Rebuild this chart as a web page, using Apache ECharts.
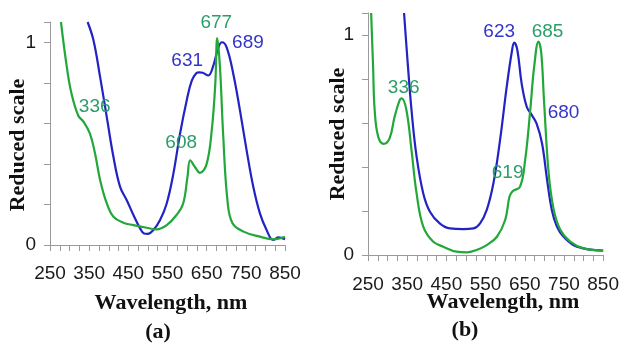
<!DOCTYPE html>
<html>
<head>
<meta charset="utf-8">
<script src="https://cdn.jsdelivr.net/npm/echarts@6/dist/echarts.min.js"></script>
<style>
  html, body { margin: 0; padding: 0; background: #fff; }
  #main { width: 622px; height: 345px; }
</style>
</head>
<body>
<div id="main"></div>
<script>
// panel (a)
const aGreenNm = [278, 293, 305, 322, 336, 352, 365, 378, 395, 412, 437, 463, 497, 522, 548, 573, 590, 601, 608, 620, 633, 650, 663, 672, 677, 684, 692, 703, 716, 744, 786, 820, 850];
const aGreenVal = [1.10, 0.877, 0.746, 0.639, 0.607, 0.549, 0.451, 0.32, 0.205, 0.139, 0.11, 0.098, 0.085, 0.077, 0.098, 0.148, 0.205, 0.336, 0.418, 0.385, 0.356, 0.40, 0.566, 0.795, 1.02, 0.877, 0.549, 0.221, 0.107, 0.066, 0.041, 0.028, 0.041];
const aBlueNm = [346, 361, 378, 395, 412, 429, 446, 463, 480, 490, 500, 514, 531, 548, 565, 582, 599, 612, 624, 631, 640, 654, 667, 680, 689, 701, 718, 735, 752, 769, 786, 803, 820, 833, 850];
const aBlueVal = [1.10, 1.01, 0.828, 0.631, 0.434, 0.287, 0.221, 0.148, 0.082, 0.057, 0.055, 0.074, 0.123, 0.205, 0.352, 0.549, 0.713, 0.811, 0.848, 0.852, 0.85, 0.836, 0.885, 0.975, 1.0, 0.975, 0.844, 0.664, 0.467, 0.287, 0.156, 0.074, 0.025, 0.038, 0.028];

// panel (b)
const bGreenNm = [258, 263, 267, 276, 290, 305, 318, 331, 336, 348, 361, 374, 391, 416, 442, 476, 502, 527, 553, 579, 600, 611, 619, 638, 651, 664, 674, 685, 692, 699, 711, 724, 741, 766, 800, 850];
const bGreenVal = [1.10, 0.856, 0.659, 0.538, 0.505, 0.53, 0.629, 0.705, 0.712, 0.659, 0.477, 0.28, 0.129, 0.061, 0.038, 0.015, 0.012, 0.023, 0.045, 0.083, 0.159, 0.265, 0.29, 0.311, 0.432, 0.659, 0.856, 0.97, 0.92, 0.705, 0.371, 0.205, 0.114, 0.061, 0.03, 0.02];
const bBlueNm = [342, 352, 361, 374, 391, 408, 433, 459, 493, 519, 536, 553, 570, 587, 604, 617, 623, 631, 642, 655, 668, 680, 694, 707, 719, 732, 749, 783, 850];
const bBlueVal = [1.10, 0.856, 0.659, 0.447, 0.28, 0.197, 0.144, 0.121, 0.118, 0.121, 0.144, 0.205, 0.326, 0.523, 0.765, 0.924, 0.965, 0.932, 0.78, 0.674, 0.636, 0.598, 0.508, 0.341, 0.205, 0.129, 0.083, 0.038, 0.02];

// peak labels: [wavelength, value on curve, text]
const aGreenPeaks = [[336, 0.607, '336'], [608, 0.418, '608'], [677, 1.02, '677']];
const aBluePeaks = [[631, 0.852, '631'], [689, 1.0, '689']];
const bGreenPeaks = [[336, 0.712, '336'], [619, 0.29, '619'], [685, 0.97, '685']];
const bBluePeaks = [[623, 0.965, '623'], [680, 0.598, '680']];

const xTicks = [250, 350, 450, 550, 650, 750, 850];

const BLUE = '#2323c4';
const GREEN = '#22a83a';
const BLUE_TXT = '#3535c8';
const GREEN_TXT = '#2a9e68';
const tickFont = 'Liberation Sans';

const zip = (xs, ys) => xs.map((x, i) => [x, ys[i]]);

// label offsets in px, one per peak
const offsets = {
  a336: [11, -15], a608: [-9, -17], a677: [-1, -15], a631: [-12, -12], a689: [26, 0],
  b336: [2, -11], b619: [-5, -18], b685: [9, -10], b623: [-15, -11], b680: [27, -11]
};

const peakMarks = (panel, peaks, color) => ({
  symbol: 'circle',
  symbolSize: 0,
  silent: true,
  label: { show: true },
  data: peaks.map(p => ({
    coord: [p[0], p[1]],
    label: {
      show: true,
      formatter: p[2],
      color: color,
      fontFamily: tickFont,
      fontSize: 19,
      offset: offsets[panel + p[2]],
      position: 'inside'
    }
  }))
});

const xAxisCfg = (gi) => ({
  type: 'value',
  gridIndex: gi,
  min: 250,
  max: 850,
  interval: 25,
  splitLine: { show: false },
  axisLine: { lineStyle: { color: '#9a9a9a', width: 1 } },
  axisTick: { length: 6, lineStyle: { color: '#9a9a9a' } },
  axisLabel: {
    color: '#1a1a1a',
    fontFamily: tickFont,
    fontSize: 19,
    margin: gi === 0 ? 19 : 20,
    formatter: v => (xTicks.indexOf(v) >= 0 ? String(v) : '')
  }
});

const yAxisCfg = (gi) => ({
  type: 'value',
  gridIndex: gi,
  min: 0,
  max: 1.1,
  interval: 0.2,
  splitLine: { show: false },
  axisLine: { show: true, lineStyle: { color: '#9a9a9a', width: 1 } },
  axisTick: { show: true, length: 6, lineStyle: { color: '#9a9a9a' } },
  axisLabel: {
    color: '#1a1a1a',
    fontFamily: tickFont,
    fontSize: 19,
    margin: 14,
    formatter: v => (v === 0 || v === 1 ? String(v) : '')
  }
});

const lineSeries = (gi, data, color, marks) => ({
  type: 'line',
  xAxisIndex: gi,
  yAxisIndex: gi,
  data: data,
  smooth: 0.4,
  showSymbol: false,
  clip: true,
  lineStyle: { color: color, width: 2.2 },
  itemStyle: { color: color },
  markPoint: marks,
  z: color === GREEN ? 3 : 2
});

const titleStyle = (text, x, y, rot) => ({
  type: 'text',
  x: x,
  y: y,
  rotation: rot || 0,
  style: {
    text: text,
    fontFamily: 'Liberation Serif',
    fontWeight: 'bold',
    fontSize: 22,
    fill: '#111',
    align: 'center',
    verticalAlign: 'middle'
  }
});

const chart = echarts.init(document.getElementById('main'), null, { renderer: 'canvas' });
chart.setOption({
  animation: false,
  grid: [
    { left: 50, right: 337, top: 22, bottom: 100 },
    { left: 368, right: 18, top: 13, bottom: 90 }
  ],
  xAxis: [xAxisCfg(0), xAxisCfg(1)],
  yAxis: [yAxisCfg(0), yAxisCfg(1)],
  series: [
    lineSeries(0, zip(aBlueNm, aBlueVal), BLUE, peakMarks('a', aBluePeaks, BLUE_TXT)),
    lineSeries(0, zip(aGreenNm, aGreenVal), GREEN, peakMarks('a', aGreenPeaks, GREEN_TXT)),
    lineSeries(1, zip(bBlueNm, bBlueVal), BLUE, peakMarks('b', bBluePeaks, BLUE_TXT)),
    lineSeries(1, zip(bGreenNm, bGreenVal), GREEN, peakMarks('b', bGreenPeaks, GREEN_TXT))
  ],
  graphic: [
    titleStyle('Wavelength, nm', 171, 303),
    titleStyle('Wavelength, nm', 503, 302),
    titleStyle('Reduced scale', 18, 145, Math.PI / 2),
    titleStyle('Reduced scale', 338, 134, Math.PI / 2),
    titleStyle('(a)', 158, 332),
    titleStyle('(b)', 465, 330)
  ]
});
</script>
</body>
</html>
